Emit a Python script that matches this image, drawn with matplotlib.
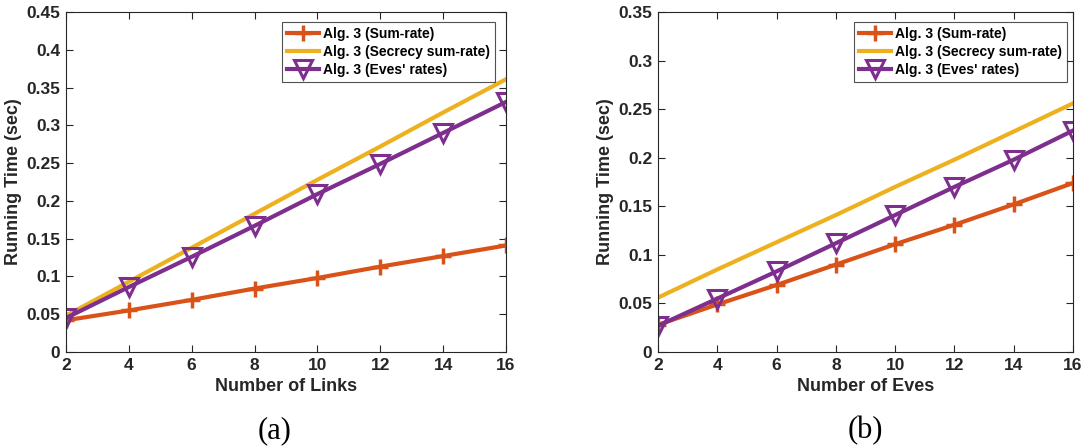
import numpy as np
import matplotlib.pyplot as plt

plt.rcParams['font.family'] = ['Liberation Sans', 'DejaVu Sans']

x = [2, 4, 6, 8, 10, 12, 14, 16]

# (a) Number of Links
a_sum = [0.042, 0.055, 0.069, 0.084, 0.098, 0.113, 0.127, 0.141]
a_sec = [0.048, 0.093, 0.138, 0.183, 0.228, 0.272, 0.317, 0.361]
a_eve = [0.045, 0.086, 0.126, 0.167, 0.209, 0.249, 0.290, 0.331]

# (b) Number of Eves
b_sum = [0.028, 0.049, 0.069, 0.090, 0.111, 0.131, 0.152, 0.174]
b_sec = [0.056, 0.085, 0.113, 0.141, 0.170, 0.198, 0.227, 0.256]
b_eve = [0.027, 0.055, 0.083, 0.112, 0.141, 0.170, 0.198, 0.228]

labels = ['Alg. 3 (Sum-rate)', 'Alg. 3 (Secrecy sum-rate)', "Alg. 3 (Eves' rates)"]
c_org = '#D95319'
c_yel = '#EDB120'
c_pur = '#7E2F8E'
dark = '#262626'

fig = plt.figure(figsize=(10.83, 4.47), dpi=100)
ax1 = fig.add_axes([0.0609, 0.2125, 0.4063, 0.7606])
ax2 = fig.add_axes([0.6076, 0.2125, 0.3832, 0.7606])

def draw(ax, ys, yls, yticks, ytl, xlabel, tag, tagx, legbox):
    s, sec, e = ys
    ax.plot(x, s, color=c_org, lw=3, marker='+', ms=11, mew=2.5, label=labels[0])
    ax.plot(x, sec, color=c_yel, lw=3, label=labels[1])
    ax.plot(x, e, color=c_pur, lw=3, marker='v', ms=13, mew=2.2,
            mfc='none', label=labels[2])
    ax.set_xlim(2, 16)
    ax.set_ylim(*yls)
    ax.set_xticks(x)
    ax.set_yticks(yticks)
    ax.set_yticklabels(ytl)
    ax.tick_params(direction='in', top=True, right=True, length=5, width=0.8,
                   colors=dark, labelsize=12.5, pad=4)
    for t in ax.get_xticklabels() + ax.get_yticklabels():
        t.set_fontweight('bold')
    for sp in ax.spines.values():
        sp.set_color(dark)
        sp.set_linewidth(0.8)
    ax.set_xlabel(xlabel, fontsize=13, fontweight='bold', color=dark, labelpad=4)
    ax.set_ylabel('Running Time (sec)', fontsize=13, fontweight='bold', color=dark, labelpad=3)
    leg = ax.legend(loc='upper left', bbox_to_anchor=legbox, prop={'weight': 'bold', 'size': 10},
                    frameon=True, fancybox=False, borderpad=0.35, labelspacing=0.3,
                    handlelength=2.3, handletextpad=0.3, borderaxespad=0)
    leg.get_frame().set_edgecolor(dark)
    leg.get_frame().set_linewidth(0.8)
    fig.text(tagx, 0.036, tag, ha='center', va='center',
             fontsize=22, family='Liberation Serif', color='black')

draw(ax1, (a_sum, a_sec, a_eve), (0, 0.45),
     [0, 0.05, 0.1, 0.15, 0.2, 0.25, 0.3, 0.35, 0.4, 0.45],
     ['0', '0.05', '0.1', '0.15', '0.2', '0.25', '0.3', '0.35', '0.4', '0.45'],
     'Number of Links', '(a)', 275 / 1083, (0.491, 0.971))
draw(ax2, (b_sum, b_sec, b_eve), (0, 0.35),
     [0, 0.05, 0.1, 0.15, 0.2, 0.25, 0.3, 0.35],
     ['0', '0.05', '0.1', '0.15', '0.2', '0.25', '0.3', '0.35'],
     'Number of Eves', '(b)', 865 / 1083, (0.472, 0.971))

fig.savefig('out.png', dpi=100)
